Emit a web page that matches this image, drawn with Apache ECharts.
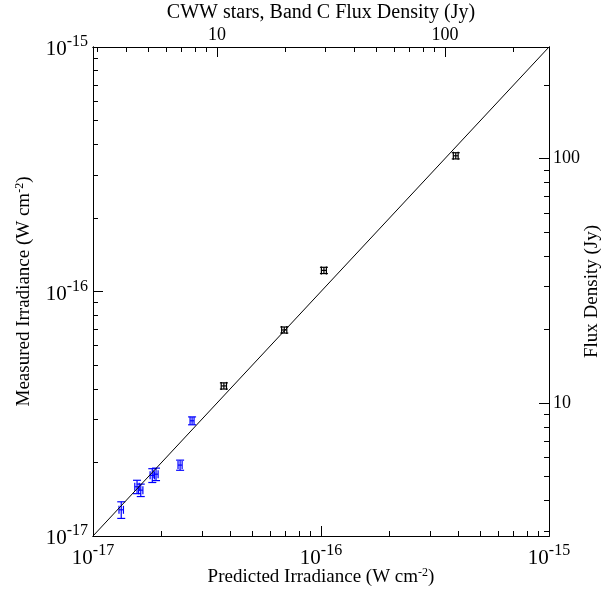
<!DOCTYPE html>
<html><head><meta charset="utf-8">
<script src="https://cdn.jsdelivr.net/npm/echarts@6/dist/echarts.min.js"></script>
<style>html,body{margin:0;padding:0;background:#fff}#c{width:605px;height:591px}</style>
</head><body><div id="c"></div>
<script>
// ---- data (W cm^-2) ----
const predicted = [1.33e-17, 1.56e-17, 1.62e-17, 1.82e-17, 1.89e-17, 2.41e-17, 2.72e-17, 3.75e-17, 6.90e-17, 1.03e-16, 3.90e-16];
const measured  = [1.28e-17, 1.59e-17, 1.54e-17, 1.77e-17, 1.79e-17, 1.95e-17, 2.96e-17, 4.11e-17, 6.96e-17, 1.22e-16, 3.59e-16];
const predErr   = [0.3e-18, 0.35e-18, 0.35e-18, 0.4e-18, 0.4e-18, 0.5e-18, 0.55e-18, 1.0e-18, 1.8e-18, 2.6e-18, 9.5e-18];
const measErr   = [1.0e-18, 1.0e-18, 0.9e-18, 1.15e-18, 1.05e-18, 0.93e-18, 1.1e-18, 1.2e-18, 2.0e-18, 3.6e-18, 1.05e-17];
const pointGroup = ['blue','blue','blue','blue','blue','blue','blue','black','black','black','black'];
const groupColors = {blue: '#0000ff', black: '#000000'};

// ---- axes ----
const irrMin = 1e-17, irrMax = 1e-15;
const irrMajorTicks = [1e-17, 1e-16, 1e-15];
const irrMinorTicks = [2e-17,3e-17,4e-17,5e-17,6e-17,7e-17,8e-17,9e-17,2e-16,3e-16,4e-16,5e-16,6e-16,7e-16,8e-16,9e-16];
const jyXMin = 2.86, jyXMax = 286;   // top axis (flux density)
const jyYMin = 2.86, jyYMax = 286;   // right axis (flux density)
const jyMajorTicks = [10, 100];
const jyMinorTicks = [3,4,5,6,7,8,9,20,30,40,50,60,70,80,90,200];
const oneToOne = [[1e-17, 1e-17], [1e-15, 1e-15]];

const FONT = 'Liberation Serif';
const rich = {
  b: {fontFamily: FONT, fontSize: 21, color: '#000', lineHeight: 26, verticalAlign: 'bottom'},
  s: {fontFamily: FONT, fontSize: 16, color: '#000', lineHeight: 26, verticalAlign: 'bottom', padding: [0,0,10,0]}
};
const nameRich = {
  t: {fontFamily: FONT, fontSize: 19, color: '#000', lineHeight: 21, verticalAlign: 'bottom'},
  s: {fontFamily: FONT, fontSize: 12, color: '#000', lineHeight: 21, verticalAlign: 'bottom', padding: [0,0,8,0]}
};
function powLabel(v) {
  const e = Math.round(Math.log10(v));
  return '{b|10}{s|' + e + '}';
}
const lineStyle = {color: '#000', width: 1};

function baseAxis(extra) {
  return Object.assign({
    type: 'log', logBase: 10,
    axisLine: {show: true, onZero: false, lineStyle},
    splitLine: {show: false},
    minorTick: {show: false},
    nameMoveOverlap: false
  }, extra);
}

const xAxis = [
  baseAxis({position: 'bottom', min: irrMin, max: irrMax,
    axisTick: {inside: true, length: 10, lineStyle, customValues: irrMajorTicks},
    axisLabel: {margin: 7, formatter: powLabel, rich, customValues: irrMajorTicks, showMinLabel: true, showMaxLabel: true},
    name: '{t|Predicted Irradiance (W cm}{s|-2}{t|)}', nameLocation: 'middle', nameGap: 40,
    nameTextStyle: {rich: nameRich, verticalAlign: 'middle'}}),
  baseAxis({position: 'bottom', min: irrMin, max: irrMax,
    axisTick: {inside: true, length: 5, lineStyle, customValues: irrMinorTicks},
    axisLabel: {show: false}}),
  baseAxis({position: 'top', min: jyXMin, max: jyXMax,
    axisTick: {inside: true, length: 10, lineStyle, customValues: jyMajorTicks},
    axisLabel: {margin: 3, fontFamily: FONT, fontSize: 18, color: '#000', customValues: jyMajorTicks},
    name: 'CWW stars, Band C Flux Density (Jy)', nameLocation: 'middle', nameGap: 34,
    nameTextStyle: {fontFamily: FONT, fontSize: 20, color: '#000', verticalAlign: 'middle'}}),
  baseAxis({position: 'top', min: jyXMin, max: jyXMax,
    axisTick: {inside: true, length: 5, lineStyle, customValues: jyMinorTicks},
    axisLabel: {show: false}})
];
const yAxis = [
  baseAxis({position: 'left', min: irrMin, max: irrMax,
    axisTick: {inside: true, length: 10, lineStyle, customValues: irrMajorTicks},
    axisLabel: {margin: 5, formatter: powLabel, rich, customValues: irrMajorTicks, showMinLabel: true, showMaxLabel: true},
    name: '{t|Measured Irradiance (W cm}{s|-2}{t|)}', nameLocation: 'middle', nameGap: 70, nameRotate: 90,
    nameTextStyle: {rich: nameRich, verticalAlign: 'middle'}}),
  baseAxis({position: 'left', min: irrMin, max: irrMax,
    axisTick: {inside: true, length: 5, lineStyle, customValues: irrMinorTicks},
    axisLabel: {show: false}}),
  baseAxis({position: 'right', min: jyYMin, max: jyYMax,
    axisTick: {inside: true, length: 10, lineStyle, customValues: jyMajorTicks},
    axisLabel: {margin: 4, fontFamily: FONT, fontSize: 18, color: '#000', customValues: jyMajorTicks},
    name: 'Flux Density (Jy)', nameLocation: 'middle', nameGap: 43, nameRotate: 90,
    nameTextStyle: {fontFamily: FONT, fontSize: 19, color: '#000', verticalAlign: 'middle'}}),
  baseAxis({position: 'right', min: jyYMin, max: jyYMax,
    axisTick: {inside: true, length: 5, lineStyle, customValues: jyMinorTicks},
    axisLabel: {show: false}})
];

const errData = predicted.map((x, i) => [x, measured[i], predErr[i], measErr[i], i]);
const CAP = 4;
function renderErr(params, api) {
  const x = api.value(0), y = api.value(1), ex = api.value(2), ey = api.value(3);
  const idx = api.value(4);
  const color = groupColors[pointGroup[idx]];
  const c = api.coord([x, y]);
  const top = api.coord([x, y + ey]);
  const bot = api.coord([x, y - ey]);
  const lft = api.coord([x - ex, y]);
  const rgt = api.coord([x + ex, y]);
  const st = {stroke: color, lineWidth: 1.2, fill: null};
  const L = (x1, y1, x2, y2) => ({type: 'line', shape: {x1, y1, x2, y2}, style: st});
  return {type: 'group', children: [
    L(c[0], top[1], c[0], bot[1]),
    L(c[0] - CAP, top[1], c[0] + CAP, top[1]),
    L(c[0] - CAP, bot[1], c[0] + CAP, bot[1]),
    L(lft[0], c[1], rgt[0], c[1]),
    L(lft[0], c[1] - CAP, lft[0], c[1] + CAP),
    L(rgt[0], c[1] - CAP, rgt[0], c[1] + CAP)
  ]};
}

const chart = echarts.init(document.getElementById('c'), null, {renderer: 'canvas'});
chart.setOption({
  animation: false,
  backgroundColor: '#fff',
  grid: {left: 93, right: 56, top: 47, bottom: 55, containLabel: false, outerBoundsMode: 'none'},
  xAxis, yAxis,
  series: [
    {type: 'line', xAxisIndex: 0, yAxisIndex: 0, data: oneToOne, showSymbol: false,
     lineStyle: {color: '#000', width: 1}, silent: true},
    {type: 'custom', xAxisIndex: 0, yAxisIndex: 0, renderItem: renderErr, data: errData,
     encode: {x: 0, y: 1}, clip: false}
  ]
});
</script></body></html>
